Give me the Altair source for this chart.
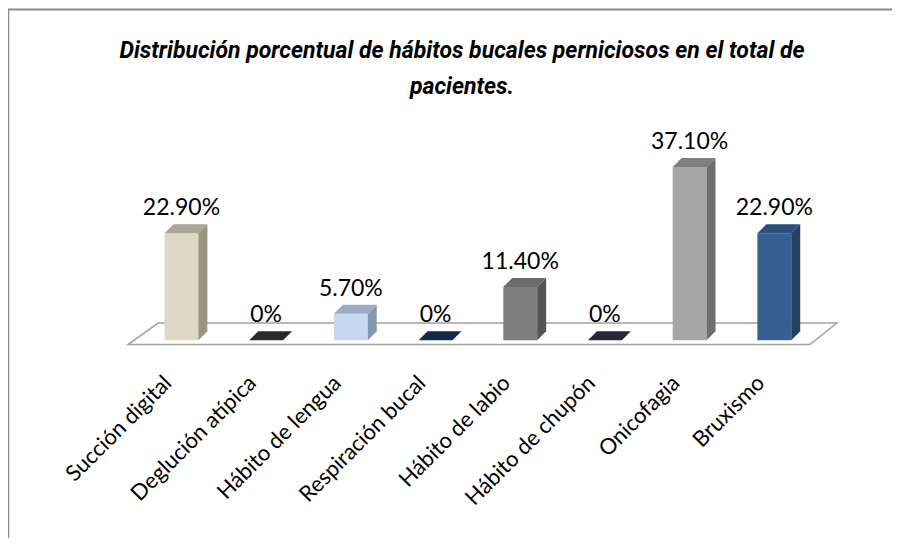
import json
import altair as alt
import pandas as pd

# ---- data ----
categories = ["Succión digital", "Deglución atípica", "Hábito de lengua", "Respiración bucal",
              "Hábito de labio", "Hábito de chupón", "Onicofagia", "Bruxismo"]
values = [22.9, 0.0, 5.7, 0.0, 11.4, 0.0, 37.1, 22.9]
value_labels = ["22.90%", "0%", "5.70%", "0%", "11.40%", "0%", "37.10%", "22.90%"]

front_colors = ["#ddd9c4", "#2b2b2b", "#c6d9f1", "#132a4a", "#7f7f7f", "#2b2340", "#a6a6a6", "#366092"]
side_colors = ["#99947f", "#2b2b2b", "#8497b0", "#132a4a", "#545454", "#2b2340", "#6e6e6e", "#243f60"]
top_colors = ["#aaa796", "#2b2b2b", "#9aabc3", "#132a4a", "#6b6b6b", "#2b2340", "#808080", "#2c4f7c"]

title_lines = ["Distribución porcentual de hábitos bucales perniciosos en el total de", "pacientes."]

# ---- geometry/style constants ----
W_HALF = 0.2      # half width of bar front face (category units)
DX = 0.106        # 3D depth offset in x (category units)
DY = 1.93         # 3D depth offset in y (value units)
n = len(categories)

xscale = alt.Scale(domain=[-0.95, 8.0], nice=False, zero=False)
yscale = alt.Scale(domain=[-2.5, 45], nice=False, zero=False)
xaxis = alt.Axis(values=list(range(n)), labelExpr=json.dumps(categories) + "[datum.value]",
                 title=None, ticks=False, tickSize=0, domain=False, grid=False,
                 labelAngle=-45, labelAlign="right", labelBaseline="middle",
                 labelFont="Lato", labelFontSize=22, labelColor="#000000", labelLimit=0,
                 labelPadding=27, labelOffset=-14, labelOverlap=False, labelBound=False)

front = pd.DataFrame({
    "i": range(n),
    "x0": [i - W_HALF for i in range(n)],
    "x1": [i + W_HALF for i in range(n)],
    "y0": [0.0] * n,
    "y1": values,
    "col": front_colors,
})

side_rows, top_rows = [], []
for i, v in enumerate(values):
    side_rows.append({"i": i, "sx": i + W_HALF, "sy": v, "sy2": 0.0, "col": side_colors[i]})
    side_rows.append({"i": i, "sx": i + W_HALF + DX, "sy": v + DY, "sy2": DY, "col": side_colors[i]})
    top_rows.append({"i": i, "ty": v, "tx1": i - W_HALF, "tx2": i + W_HALF, "col": top_colors[i]})
    top_rows.append({"i": i, "ty": v + DY, "tx1": i - W_HALF + DX, "tx2": i + W_HALF + DX, "col": top_colors[i]})
side = pd.DataFrame(side_rows)
top = pd.DataFrame(top_rows)

labels = pd.DataFrame({"i": range(n), "ly": [v + DY for v in values], "txt": value_labels})

floor = pd.DataFrame({
    "fy": [-0.9, 3.7],
    "fx1": [-0.631, -0.277],
    "fx2": [n - 1 + 0.42, n - 1 + 0.74],
})

one = pd.DataFrame({"k": [0]})

border_top = alt.Chart(one).mark_rule(color="#8c8c8c", strokeWidth=2).encode(
    x=alt.value(-93), x2=alt.value(791), y=alt.value(-120.5))
border_left = alt.Chart(one).mark_rule(color="#8c8c8c", strokeWidth=1.5).encode(
    x=alt.value(-92.5), y=alt.value(-120.5), y2=alt.value(408))

floor_layer = alt.Chart(floor).mark_area(orient="horizontal", fill="white", stroke="#a0a0a0",
                                          strokeWidth=1.5).encode(
    y=alt.Y("fy:Q", scale=yscale, axis=None),
    x=alt.X("fx1:Q", scale=xscale, axis=xaxis),
    x2="fx2:Q",
)

front_layer = alt.Chart(front).mark_rect().encode(
    x=alt.X("x0:Q", scale=xscale, axis=xaxis),
    x2="x1:Q",
    y=alt.Y("y0:Q", scale=yscale, axis=None),
    y2="y1:Q",
    color=alt.Color("col:N", scale=None),
)

side_layer = alt.Chart(side).mark_area().encode(
    x=alt.X("sx:Q", scale=xscale, axis=xaxis),
    y=alt.Y("sy:Q", scale=yscale, axis=None),
    y2="sy2:Q",
    detail="i:N",
    color=alt.Color("col:N", scale=None),
)

top_layer = alt.Chart(top).mark_area(orient="horizontal").encode(
    y=alt.Y("ty:Q", scale=yscale, axis=None),
    x=alt.X("tx1:Q", scale=xscale, axis=xaxis),
    x2="tx2:Q",
    detail="i:N",
    color=alt.Color("col:N", scale=None),
)

text_layer = alt.Chart(labels).mark_text(font="Lato", fontSize=23, baseline="alphabetic",
                                         dy=-9, color="#000000").encode(
    x=alt.X("i:Q", scale=xscale, axis=xaxis),
    y=alt.Y("ly:Q", scale=yscale, axis=None),
    text="txt:N",
)

chart = alt.layer(
    border_top, border_left, floor_layer, front_layer, side_layer, top_layer, text_layer
).properties(
    width=758,
    height=222,
    autosize=alt.AutoSizeParams(type="none"),
    padding={"left": 93, "top": 122, "right": 33, "bottom": 186},
    title=alt.TitleParams(
        text=title_lines,
        font="Roboto",
        fontSize=23, fontStyle="italic", fontWeight="bold", color="#000000",
        lineHeight=36, offset=-90, dx=-18, anchor="middle", frame="group",
    ),
).configure_view(strokeWidth=0)

chart.save("out.html", embed_options={"renderer": "svg", "actions": False})
